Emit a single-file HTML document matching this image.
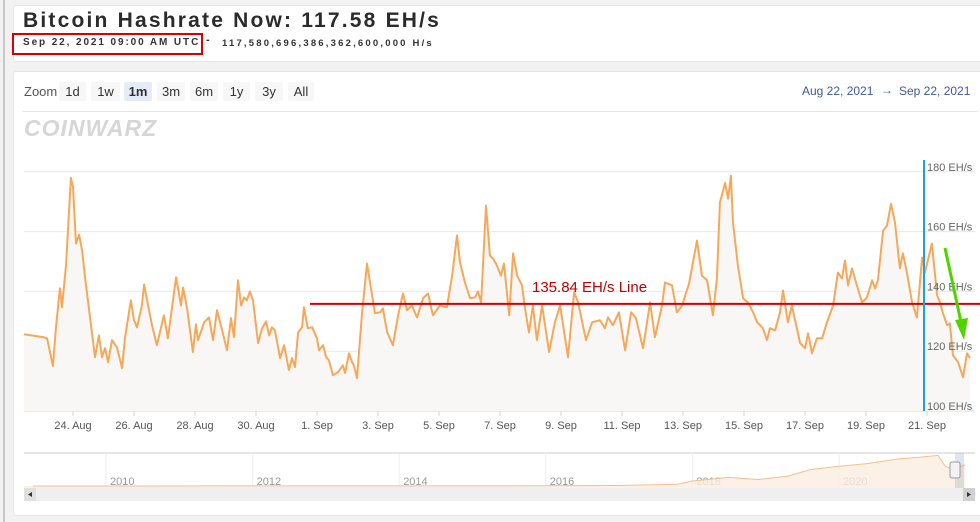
<!DOCTYPE html>
<html><head><meta charset="utf-8"><style>
body{margin:0;width:980px;height:522px;background:#f2f2f2;font-family:"Liberation Sans",sans-serif;position:relative;overflow:hidden}
.lb{position:absolute;left:3px;top:0;width:2px;height:522px;background:#c8c8c8}
.box{position:absolute;background:#fff;border:1px solid #e6e6e6;border-radius:3px}
.btn{position:absolute;top:82px;height:19px;line-height:19px;font-size:13px;color:#333;background:#f7f7f7;text-align:center;border-radius:2px}
</style></head><body>
<div class="lb"></div>
<div class="box" style="left:13px;top:5px;width:970px;height:55px"></div>
<div style="position:absolute;left:23px;top:9px;font-size:21px;font-weight:bold;color:#2b2b2b;letter-spacing:2.2px">Bitcoin Hashrate Now: 117.58 EH/s</div>
<div style="position:absolute;left:12px;top:33px;width:187px;height:18px;border:2px solid #d80000"></div>
<div style="position:absolute;left:23px;top:37px;font-size:10px;font-weight:bold;color:#333;letter-spacing:1.9px">Sep 22, 2021 09:00 AM UTC</div>
<div style="position:absolute;left:206px;top:34px;font-size:11px;font-weight:bold;color:#333">-</div>
<div style="position:absolute;left:222px;top:38px;font-size:9.5px;font-weight:bold;color:#333;letter-spacing:2.2px">117,580,696,386,362,600,000 H/s</div>
<div class="box" style="left:13px;top:71px;width:970px;height:443px"></div>
<div style="position:absolute;left:24px;top:84px;font-size:13px;color:#555">Zoom</div>
<div class="btn" style="left:59px;width:27px">1d</div>
<div class="btn" style="left:91px;width:29px">1w</div>
<div class="btn" style="left:124px;width:28px;background:#e6ecf5;font-weight:bold">1m</div>
<div class="btn" style="left:157px;width:28px">3m</div>
<div class="btn" style="left:190px;width:28px">6m</div>
<div class="btn" style="left:223px;width:27px">1y</div>
<div class="btn" style="left:255px;width:28px">3y</div>
<div class="btn" style="left:288px;width:26px">All</div>
<div style="position:absolute;left:802px;top:84px;font-size:12px;color:#3d5a99">Aug 22, 2021</div>
<div style="position:absolute;left:881px;top:83px;font-size:12px;color:#3d5a99">→</div>
<div style="position:absolute;left:899px;top:84px;font-size:12px;color:#3d5a99">Sep 22, 2021</div>
<div style="position:absolute;left:23px;top:111px;width:955px;height:1px;background:#e4e4e4"></div>
<div style="position:absolute;left:24px;top:115px;font-size:23px;font-weight:900;color:#d6d6d6;letter-spacing:1px;font-style:italic">COINWARZ</div>
<svg id="chart" width="980" height="522" style="position:absolute;left:0;top:0"></svg>
<script>
const days=[0.39,1.02,1.15,1.34,1.44,1.57,1.64,1.77,1.93,2.00,2.10,2.20,2.30,2.39,2.59,2.72,2.85,2.95,3.05,3.15,3.28,3.44,3.61,3.70,3.90,4.00,4.10,4.26,4.33,4.43,4.59,4.75,4.98,5.11,5.38,5.54,5.61,5.74,5.93,6.03,6.10,6.30,6.46,6.59,6.72,6.85,7.05,7.18,7.28,7.41,7.51,7.61,7.70,7.80,7.90,8.07,8.20,8.33,8.43,8.52,8.62,8.79,8.92,9.08,9.18,9.28,9.38,9.51,9.57,9.70,9.84,10.00,10.07,10.20,10.30,10.39,10.52,10.69,10.85,10.92,11.05,11.15,11.21,11.31,11.48,11.64,11.77,11.90,12.07,12.16,12.30,12.49,12.66,12.82,12.95,13.11,13.28,13.48,13.64,13.80,14.03,14.26,14.43,14.59,14.69,14.85,15.02,15.18,15.28,15.38,15.54,15.67,15.77,15.90,16.03,16.13,16.30,16.43,16.56,16.72,16.82,16.95,17.08,17.21,17.38,17.61,17.80,17.97,18.07,18.23,18.43,18.56,18.82,19.02,19.28,19.44,19.54,19.70,19.90,20.10,20.30,20.46,20.69,20.92,21.08,21.31,21.41,21.64,21.80,21.97,22.20,22.46,22.62,22.79,22.98,23.11,23.21,23.38,23.48,23.57,23.64,23.80,23.97,24.13,24.30,24.43,24.62,24.75,24.85,25.02,25.18,25.28,25.44,25.57,25.84,26.00,26.10,26.23,26.39,26.56,26.72,26.92,27.08,27.21,27.31,27.41,27.54,27.70,27.87,28.03,28.20,28.30,28.39,28.56,28.69,28.82,28.95,29.11,29.21,29.34,29.51,29.67,29.84,29.93,30.16,30.33,30.43,30.52,30.66,30.75,30.85,31.02,31.18,31.31,31.41];
const hashrate=[125.7,124.7,124.3,115,127.7,141,134.7,148.7,178,175,156,159,153.7,145,128.7,118,125.3,118,121,116.3,123.7,121.3,114.3,124.3,137,130.3,128,135.3,142.3,137,128.7,122,132,124.3,144.7,135.3,141.3,134.3,119.7,129,123.7,129.7,131.3,123.7,133.7,128.7,120.3,131,124.7,143.7,135.3,138,137,140,137,122.7,127.7,130,125.3,128,127,117.7,122,113.7,117.7,114.7,126.3,128,134.7,127.7,128,124.3,120.3,122,118,117,112,113,115.3,112.7,119.3,116.3,115.3,111,133,149.3,141,132.7,133,134.3,126.3,122,132,139.3,133.7,135.3,131.3,137.7,139.3,132,135.3,134.7,145.3,158.7,149.7,143,137.7,138,140,136.3,168.7,152,151,148.7,145.3,149.3,132,152.7,145.3,142,134.3,126.3,135.3,123.7,135.3,119.7,129.7,135.3,128.7,118,139.7,136.3,123.7,129.7,130.3,127.7,131.3,128.7,133,120.3,133,131,121,136.3,124.7,135.3,143,142,133,135.3,142.7,157,145.3,143.7,132,144.3,169.7,176.3,171,178.7,163,148.7,137.7,136.3,133,129.7,127.7,123.7,127.7,127,133,140.3,129.7,135.3,122.7,121,126,119.3,124.3,124.3,129.7,135.3,146.3,144.3,150.3,142,147.7,142,136.3,138,143.7,141,143.7,160.3,162,169.3,163,147.7,152.7,146.3,136.3,131.3,151.3,146.3,156,138.7,136.3,132.7,128.7,129.3,118.7,116.3,111.3,119.3,117.7];
const yTicks=[100,120,140,160,180];
const xTickDays=[2,4,6,8,10,12,14,16,18,20,22,24,26,28,30];
const xTickLabels=["24. Aug","26. Aug","28. Aug","30. Aug","1. Sep","3. Sep","5. Sep","7. Sep","9. Sep","11. Sep","13. Sep","15. Sep","17. Sep","19. Sep","21. Sep"];
const refValue=135.84;
const navYears=["2010","2012","2014","2016","2018","2020"];
const navYearPos=[2010,2012,2014,2016,2018,2020];
const navTimes=[2009,2016,2017,2017.8,2018,2018.5,2018.9,2019.3,2019.6,2020,2020.4,2020.8,2021.1,2021.35,2021.45,2021.55,2021.72];
const navValues=[0,1,3,10,28,48,36,55,90,110,125,150,160,170,110,92,118];

const svg=document.getElementById('chart');const NS='http://www.w3.org/2000/svg';
function mk(t,a,p){const e=document.createElementNS(NS,t);for(const k in a)e.setAttribute(k,a[k]);(p||svg).appendChild(e);return e;}
const x=d=>12+d*30.5;
const y=v=>411-(v-100)*2.99;
const PL=24,PR=975;
yTicks.forEach(v=>{
  const g=mk('line',{x1:PL,x2:PR,y1:y(v),y2:y(v),stroke:v===100?'#ccd6eb':'#e8e8e8','stroke-width':1});
  
  
});
xTickDays.forEach((d,i)=>{
  const tk=mk('line',{x1:x(d),x2:x(d),y1:411,y2:416,stroke:'#ccd6eb'});
  
  
  const t=mk('text',{x:x(d),y:429,'font-size':11,fill:'#555','text-anchor':'middle','font-family':'Liberation Sans, sans-serif'});
  t.textContent=xTickLabels[i];
  
  
});
let dl='';days.forEach((d,i)=>{dl+=(i?'L':'M')+x(d).toFixed(1)+','+y(hashrate[i]).toFixed(1);});
const area=mk('path',{d:dl+'L'+x(days[days.length-1])+',411L'+x(days[0])+',411Z',fill:'#f9f7f5'});


const line=mk('path',{d:dl,fill:'none',stroke:'#f5a85a','stroke-width':2,'stroke-linejoin':'round'});


yTicks.forEach(v=>{
  const t=mk('text',{x:927,y:y(v)-1,'font-size':11,fill:'#666','font-family':'Liberation Sans, sans-serif'});
  t.textContent=v+' EH/s';
  
  
});
const ref=mk('line',{x1:310,x2:980,y1:y(refValue),y2:y(refValue),stroke:'#d40000','stroke-width':2});


const rl=mk('text',{x:532,y:y(refValue)-12,'font-size':15,fill:'#c00000','font-family':'Liberation Sans, sans-serif'});
rl.textContent=refValue+' EH/s Line';


const bl=mk('line',{x1:924,x2:924,y1:160,y2:411,stroke:'#1ea0e0','stroke-width':2});


const ga=mk('line',{x1:945,y1:248,x2:961,y2:322,stroke:'#4fd400','stroke-width':3});


const gh=mk('polygon',{points:'955,320 968,318 964,340',fill:'#4fd400'});


// navigator
const nx=yr=>106+(yr-2010)*73.3;
const ny=v=>486-v*0.18;
const nt=mk('line',{x1:24,x2:975,y1:453,y2:453,stroke:'#cccccc'});


navYearPos.forEach((yr,i)=>{
  const g=mk('line',{x1:nx(yr),x2:nx(yr),y1:453,y2:488,stroke:'#eeeeee'});
  
  
  const t=mk('text',{x:nx(yr)+4,y:485,'font-size':11,fill:'#999','font-family':'Liberation Sans, sans-serif'});
  t.textContent=navYears[i];
  
  
});
let nd='';navTimes.forEach((t,i)=>{nd+=(i?'L':'M')+nx(t).toFixed(1)+','+ny(navValues[i]).toFixed(1);});
const na=mk('path',{d:nd+'L'+nx(navTimes[navTimes.length-1])+',488L24,488L24,486Z',fill:'#fbeee0','fill-opacity':0.8});


const nl=mk('path',{d:nd,fill:'none',stroke:'#f2c08c','stroke-width':1});


const sel=mk('rect',{x:955,y:453,width:9,height:35,fill:'rgba(100,130,180,0.2)'});


const hnd=mk('rect',{x:950,y:462,width:10,height:16,fill:'#f2f2f2',stroke:'#999',rx:2});


const sb=mk('rect',{x:24,y:488,width:951,height:13,fill:'#efefef'});


const sl=mk('rect',{x:24,y:488,width:12,height:13,fill:'#e0e0e0'});


const sr=mk('rect',{x:963,y:488,width:12,height:13,fill:'#d0d0d0'});


const al=mk('polygon',{points:'32,492 28,494.5 32,497',fill:'#333'});


const ar=mk('polygon',{points:'967,492 971,494.5 967,497',fill:'#333'});


</script>
</body></html>
